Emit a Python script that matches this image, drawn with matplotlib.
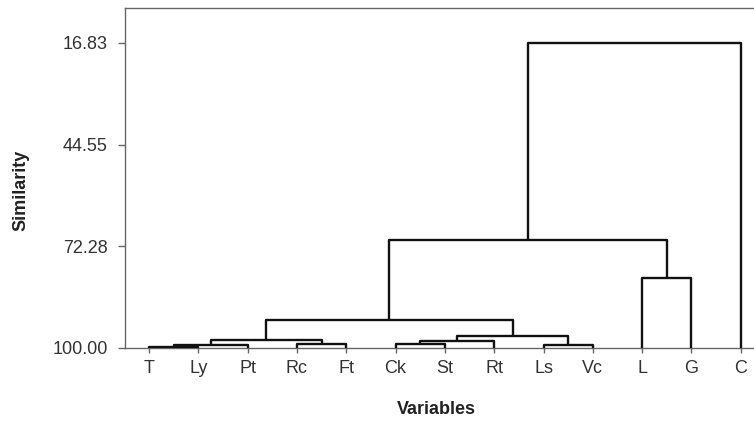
import matplotlib
matplotlib.use("Agg")
import matplotlib.pyplot as plt

plt.rcParams['font.family'] = ['Liberation Sans', 'DejaVu Sans']

# Data
leaves = ['T', 'Ly', 'Pt', 'Rc', 'Ft', 'Ck', 'St', 'Rt', 'Ls', 'Vc', 'L', 'G', 'C']
# linkage: cluster ids 0..12 are leaves, new clusters numbered from 13
merge_a = [0, 13, 3, 14, 5, 17, 8, 18, 16, 10, 21, 23]
merge_b = [1, 2, 4, 15, 6, 7, 9, 19, 20, 11, 22, 12]
merge_sim = [99.7, 99.35, 98.9, 97.8, 99.07, 98.1, 99.26, 96.7, 92.4, 81.0, 70.6, 16.83]
y_ticks = [16.83, 44.55, 72.28, 100.00]

fig = plt.figure(figsize=(7.54, 4.21), dpi=100)
ax = fig.add_axes([125/754, 1 - 347.7/421, 1 - 125/754 + 0.005, (347.7 - 8)/421])

pos = {i: float(i + 1) for i in range(len(leaves))}
height = {i: 100.0 for i in range(len(leaves))}
line_kw = dict(color='#111111', lw=1.7, solid_capstyle='butt', zorder=3)
for k, (a, b, s) in enumerate(zip(merge_a, merge_b, merge_sim)):
    nid = len(leaves) + k
    xa, xb = pos[a], pos[b]
    ax.plot([xa, xa, xb, xb], [height[a], s, s, height[b]], **line_kw)
    pos[nid] = (xa + xb) / 2
    height[nid] = s

ax.set_xlim(1 - 24/49.17, 1 + (756 - 149)/49.17)
ax.set_ylim(100, 16.83 - (43 - 8)/3.664)

ax.set_xticks(range(1, len(leaves) + 1))
ax.set_xticklabels(leaves)
ax.set_yticks(y_ticks)
ax.set_yticklabels([f"{v:.2f}" for v in y_ticks])

for sp in ['left', 'bottom', 'top']:
    ax.spines[sp].set_color('#666666')
    ax.spines[sp].set_linewidth(1.0)
ax.spines['right'].set_visible(False)

ax.tick_params(axis='x', direction='out', length=3.5, width=1, color='#666666',
               labelsize=13, labelcolor='#333333', pad=5)
ax.tick_params(axis='y', direction='out', length=5, width=1, color='#666666',
               labelsize=13, labelcolor='#333333', pad=7.5)

fig.text(21/754, 1 - 190/421, 'Similarity', rotation=90, ha='center', va='center',
         fontsize=13, fontweight='bold', color='#222222')
fig.text(436/754, 1 - 410/421, 'Variables', ha='center', va='center',
         fontsize=13, fontweight='bold', color='#222222')

fig.savefig('out.png', dpi=100)
